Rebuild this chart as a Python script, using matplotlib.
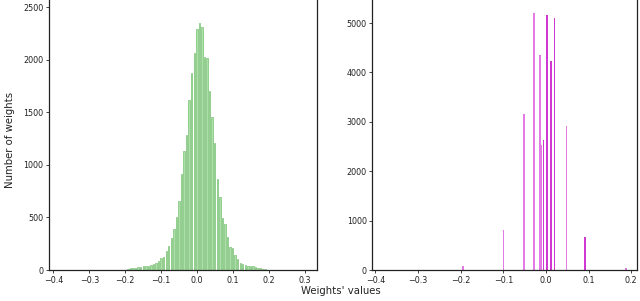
import numpy as np
import matplotlib
matplotlib.use("Agg")
import matplotlib.pyplot as plt

# Left panel: full-precision weights histogram (bin centres)
full_lo, full_hi = -0.1925, 0.1905
full_counts = [13, 19, 22, 22, 29, 29, 35, 35, 41, 48, 57, 63, 89, 111, 127, 184,
               228, 301, 387, 508, 660, 914, 1133, 1285, 1618, 1878, 2069, 2291,
               2348, 2316, 2024, 2015, 1707, 1453, 1206, 866, 698, 492, 438, 311,
               216, 206, 143, 102, 70, 54, 48, 41, 35, 35, 29, 22, 16, 10, 6]

# Right panel: quantized weights
quant_values = [-0.1945, -0.1, -0.0509, -0.0281, -0.0141, -0.011, -0.0063,
                0.0023, 0.0117, 0.0204, 0.0476, 0.092, 0.1875]
quant_counts = [80, 800, 3160, 5200, 4350, 2530, 2630, 5160, 4240, 5110, 2920, 670, 35]
quant_dark = [False, False, False, False, False, False, True, True, True, True, False, True, False]

xticks_left = [-0.4, -0.3, -0.2, -0.1, 0.0, 0.1, 0.2, 0.3]
xticks_right = [-0.4, -0.3, -0.2, -0.1, 0.0, 0.1, 0.2]
yticks_left = [0, 500, 1000, 1500, 2000, 2500]
yticks_right = [0, 1000, 2000, 3000, 4000, 5000]

W, H = 640, 301
fig = plt.figure(figsize=(W / 100, H / 100), dpi=100)

def axes_px(x0, x1, ytop, ybot):
    return fig.add_axes([x0 / W, 1 - ybot / H, (x1 - x0) / W, (ybot - ytop) / H])

ax1 = axes_px(49, 317, -1, 270)
ax2 = axes_px(372.3, 636.7, -1, 270)

n = len(full_counts)
centers = np.linspace(full_lo, full_hi, n)
bw = (full_hi - full_lo) / (n - 1)
ax1.bar(centers, full_counts, width=bw * 0.55, color="#ace0a8",
        edgecolor="#62b55d", linewidth=0.4, align="center")
ax1.set_xlim(-0.412, 0.333)
ax1.set_ylim(0, 2579)
ax1.set_xticks(xticks_left)
ax1.set_yticks(yticks_left)

for v, c, d in zip(quant_values, quant_counts, quant_dark):
    col = "#cf38d2" if d else "#e47ae6"
    ax2.bar(v, c, width=0.0035, color=col, linewidth=0)
ax2.set_xlim(-0.407, 0.2127)
ax2.set_ylim(0, 5486)
ax2.set_xticks(xticks_right)
ax2.set_yticks(yticks_right)

for ax in (ax1, ax2):
    ax.tick_params(labelsize=5.8, length=2.5, width=0.6, pad=1.5, colors="#222222")
    for s in ax.spines.values():
        s.set_linewidth(0.9)
        s.set_color("#222222")
    ax.xaxis.set_major_formatter(matplotlib.ticker.FuncFormatter(
        lambda v, p: ("\u2212" if v < -1e-9 else "") + f"{abs(v):.1f}"))

fig.text(5 / W, 1 - 140 / H, "Number of weights", rotation=90, ha="left",
         va="center", fontsize=7.3, color="#222222")
fig.text(341 / W, 1 - 291 / H, "Weights' values", ha="center", va="center",
         fontsize=7.3, color="#222222")

fig.savefig("out.png", dpi=100)
